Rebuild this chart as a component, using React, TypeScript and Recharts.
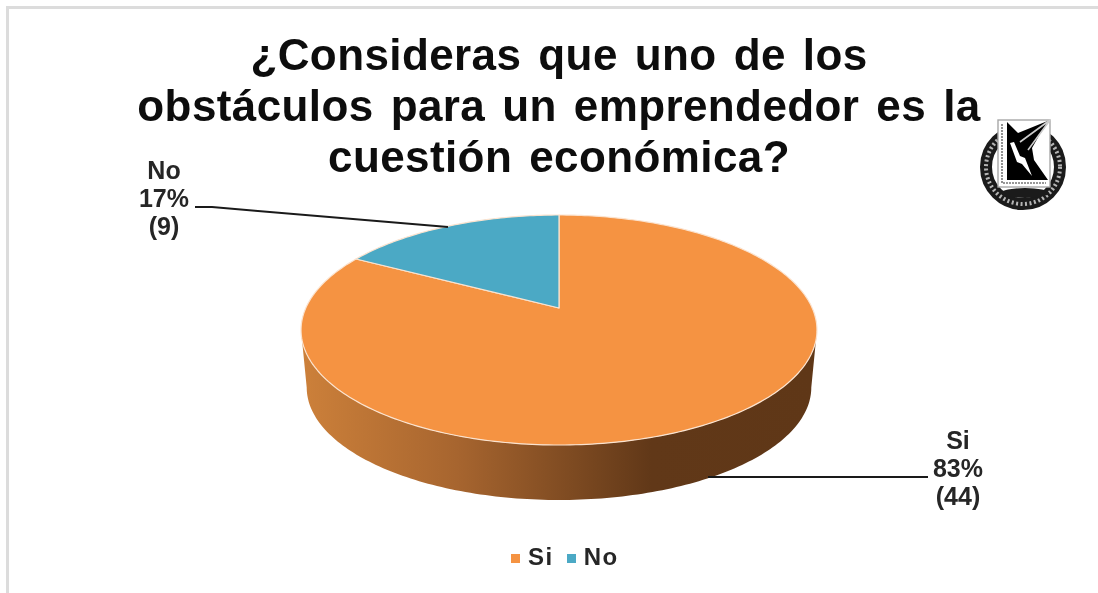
import React from "react"
import { Legend, Pie, PieChart } from "recharts"

const categories = ["Si", "No"]
const counts = [44, 9]
const percents = ["83%", "17%"]
const colors = ["#F59342", "#4BA9C5"]
const titleLines = [
  "¿Consideras que uno de los",
  "obstáculos para un emprendedor es la",
  "cuestión económica?",
]

const pieData = categories.map((name, i) => ({
  name,
  value: counts[i],
  percent: percents[i],
  fill: colors[i],
}))

const FONT = "'Liberation Sans', Arial, sans-serif"

// the 3D look: a flat circle pushed through a perspective
const PERSP = 0.1913
const TILT = 110.8 / 253.2
const DEPTH = 58
const BOTTOM_SCALE = 0.978

function project(cx: number, cy: number, r: number, deg: number) {
  const rad = (deg * Math.PI) / 180
  const u = Math.cos(rad)
  const v = Math.sin(rad)
  const w = 1 + PERSP * v
  return { x: cx + (r * u) / w, y: cy - (r * TILT * v) / w }
}

function arcPoints(cx: number, cy: number, r: number, from: number, to: number) {
  const steps = Math.max(2, Math.ceil(Math.abs(to - from)))
  const pts = []
  for (let i = 0; i <= steps; i++) {
    pts.push(project(cx, cy, r, from + ((to - from) * i) / steps))
  }
  return pts
}

const toPath = (pts: { x: number; y: number }[]) =>
  pts.map((p, i) => `${i ? "L" : "M"}${p.x.toFixed(2)} ${p.y.toFixed(2)}`).join(" ")

function Slice3D(props: any) {
  const { cx, cy, outerRadius, startAngle, endAngle, fill } = props
  const hi = Math.max(startAngle, endAngle)
  const lo = Math.min(startAngle, endAngle)
  // front of the wall runs between the two widest points of the ellipse
  const side = (Math.asin(PERSP) * 180) / Math.PI
  const frontFrom = -180 + side
  const frontTo = -side
  const hasWall = lo <= frontFrom && hi >= frontTo
  const top = arcPoints(cx, cy, outerRadius, startAngle, endAngle)
  const wallTop = arcPoints(cx, cy, outerRadius, frontFrom, frontTo)
  const wallBottom = arcPoints(cx, cy + DEPTH, outerRadius * BOTTOM_SCALE, frontTo, frontFrom)
  return (
    <g>
      {hasWall && (
        <path d={`${toPath(wallTop)} ${toPath(wallBottom).replace("M", "L")} Z`} fill="url(#wallShade)" />
      )}
      <path d={`${toPath(top)} L${cx} ${cy} Z`} fill={fill} stroke="#FBE3CF" strokeWidth={1.2} strokeLinejoin="round" />
    </g>
  )
}

function CalloutLabel(props: any) {
  const { index } = props
  const entry = pieData[index]
  const spot = index === 0
    ? { line: "M708 477 L928 477", x: 958, y: 449 }
    : { line: "M195 207 L212 207 L448 227", x: 164, y: 179 }
  return (
    <g>
      <path d={spot.line} stroke="#1a1a1a" strokeWidth={2} fill="none" />
      <text x={spot.x} y={spot.y} textAnchor="middle" fontFamily={FONT} fontWeight="bold" fontSize={25} fill="#262626">
        <tspan x={spot.x}>{entry.name}</tspan>
        <tspan x={spot.x} dy={28}>{entry.percent}</tspan>
        <tspan x={spot.x} dy={28}>({entry.value})</tspan>
      </text>
    </g>
  )
}

function Seal() {
  return (
    <svg width={110} height={110} style={{ position: "absolute", left: 970, top: 110 }}>
      <circle cx={53} cy={57} r={37} fill="none" stroke="#1b1b1b" strokeWidth={12} />
      <circle cx={53} cy={57} r={37} fill="none" stroke="#b5b5b5" strokeWidth={4} strokeDasharray="2 2.5" />
      <rect x={28} y={10} width={52} height={67} fill="#fff" stroke="#a8a8a8" strokeWidth={1.4} />
      <path d="M37 12 L48 23 L80 10 L70 24 L62 38 L64 50 L78 70 L37 70 Z" fill="#000" />
      <path d="M40 33 L44 32 L50 46 L55 48 L62 66 L52 54 L47 52 Z" fill="#fff" />
      <path d="M80 10 L50 32 M80 10 L58 40" stroke="#ccc" strokeWidth={1.6} />
      <path d="M32 14 L32 73 L76 73" stroke="#777" strokeWidth={1.6} fill="none" strokeDasharray="2 1" />
      <ellipse cx={55} cy={83} rx={24} ry={5} fill="#1b1b1b" />
    </svg>
  )
}

export default function App() {
  return (
    <div style={{ position: "absolute", left: 0, top: 0, width: 1098, height: 593, background: "#fff", overflow: "hidden", filter: "blur(0.5px)" }}>
      <div style={{ position: "absolute", left: 6, top: 6, width: 1092, height: 587, borderLeft: "3px solid #dcdcdc", borderTop: "3px solid #dcdcdc" }} />
      <PieChart width={1098} height={593} margin={{ top: 0, right: 0, bottom: 0, left: 0 }} style={{ position: "absolute", left: 0, top: 0 }}>
        <defs>
          <linearGradient id="wallShade" gradientUnits="userSpaceOnUse" x1={303} y1={0} x2={815} y2={0}>
            <stop offset="0" stopColor="#CC803A" />
            <stop offset="0.3" stopColor="#A7652F" />
            <stop offset="0.68" stopColor="#613818" />
            <stop offset="1" stopColor="#5F3717" />
          </linearGradient>
        </defs>
        <text textAnchor="middle" fontFamily={FONT} fontWeight="bold" fontSize={44} fill="#0d0d0d" wordSpacing={4.4} letterSpacing={0.4}>
          {titleLines.map((line, i) => (
            <tspan key={line} x={559} y={70 + i * 51}>{line}</tspan>
          ))}
        </text>
        <Pie
          data={pieData}
          dataKey="value"
          nameKey="name"
          cx={559}
          cy={308}
          outerRadius={253.2}
          startAngle={90}
          endAngle={-270}
          isAnimationActive={false}
          shape={Slice3D}
          label={CalloutLabel}
          labelLine={false}
        />
        <Legend
          iconType="square"
          iconSize={9}
          itemSorter={null}
          wrapperStyle={{ left: 511, top: 543, width: "auto", fontFamily: FONT, fontWeight: "bold", fontSize: 24, letterSpacing: 1.5 }}
          formatter={(value: string) => <span style={{ color: "#262626", marginLeft: 4, marginRight: 3 }}>{value}</span>}
        />
      </PieChart>
      <Seal />
    </div>
  )
}
